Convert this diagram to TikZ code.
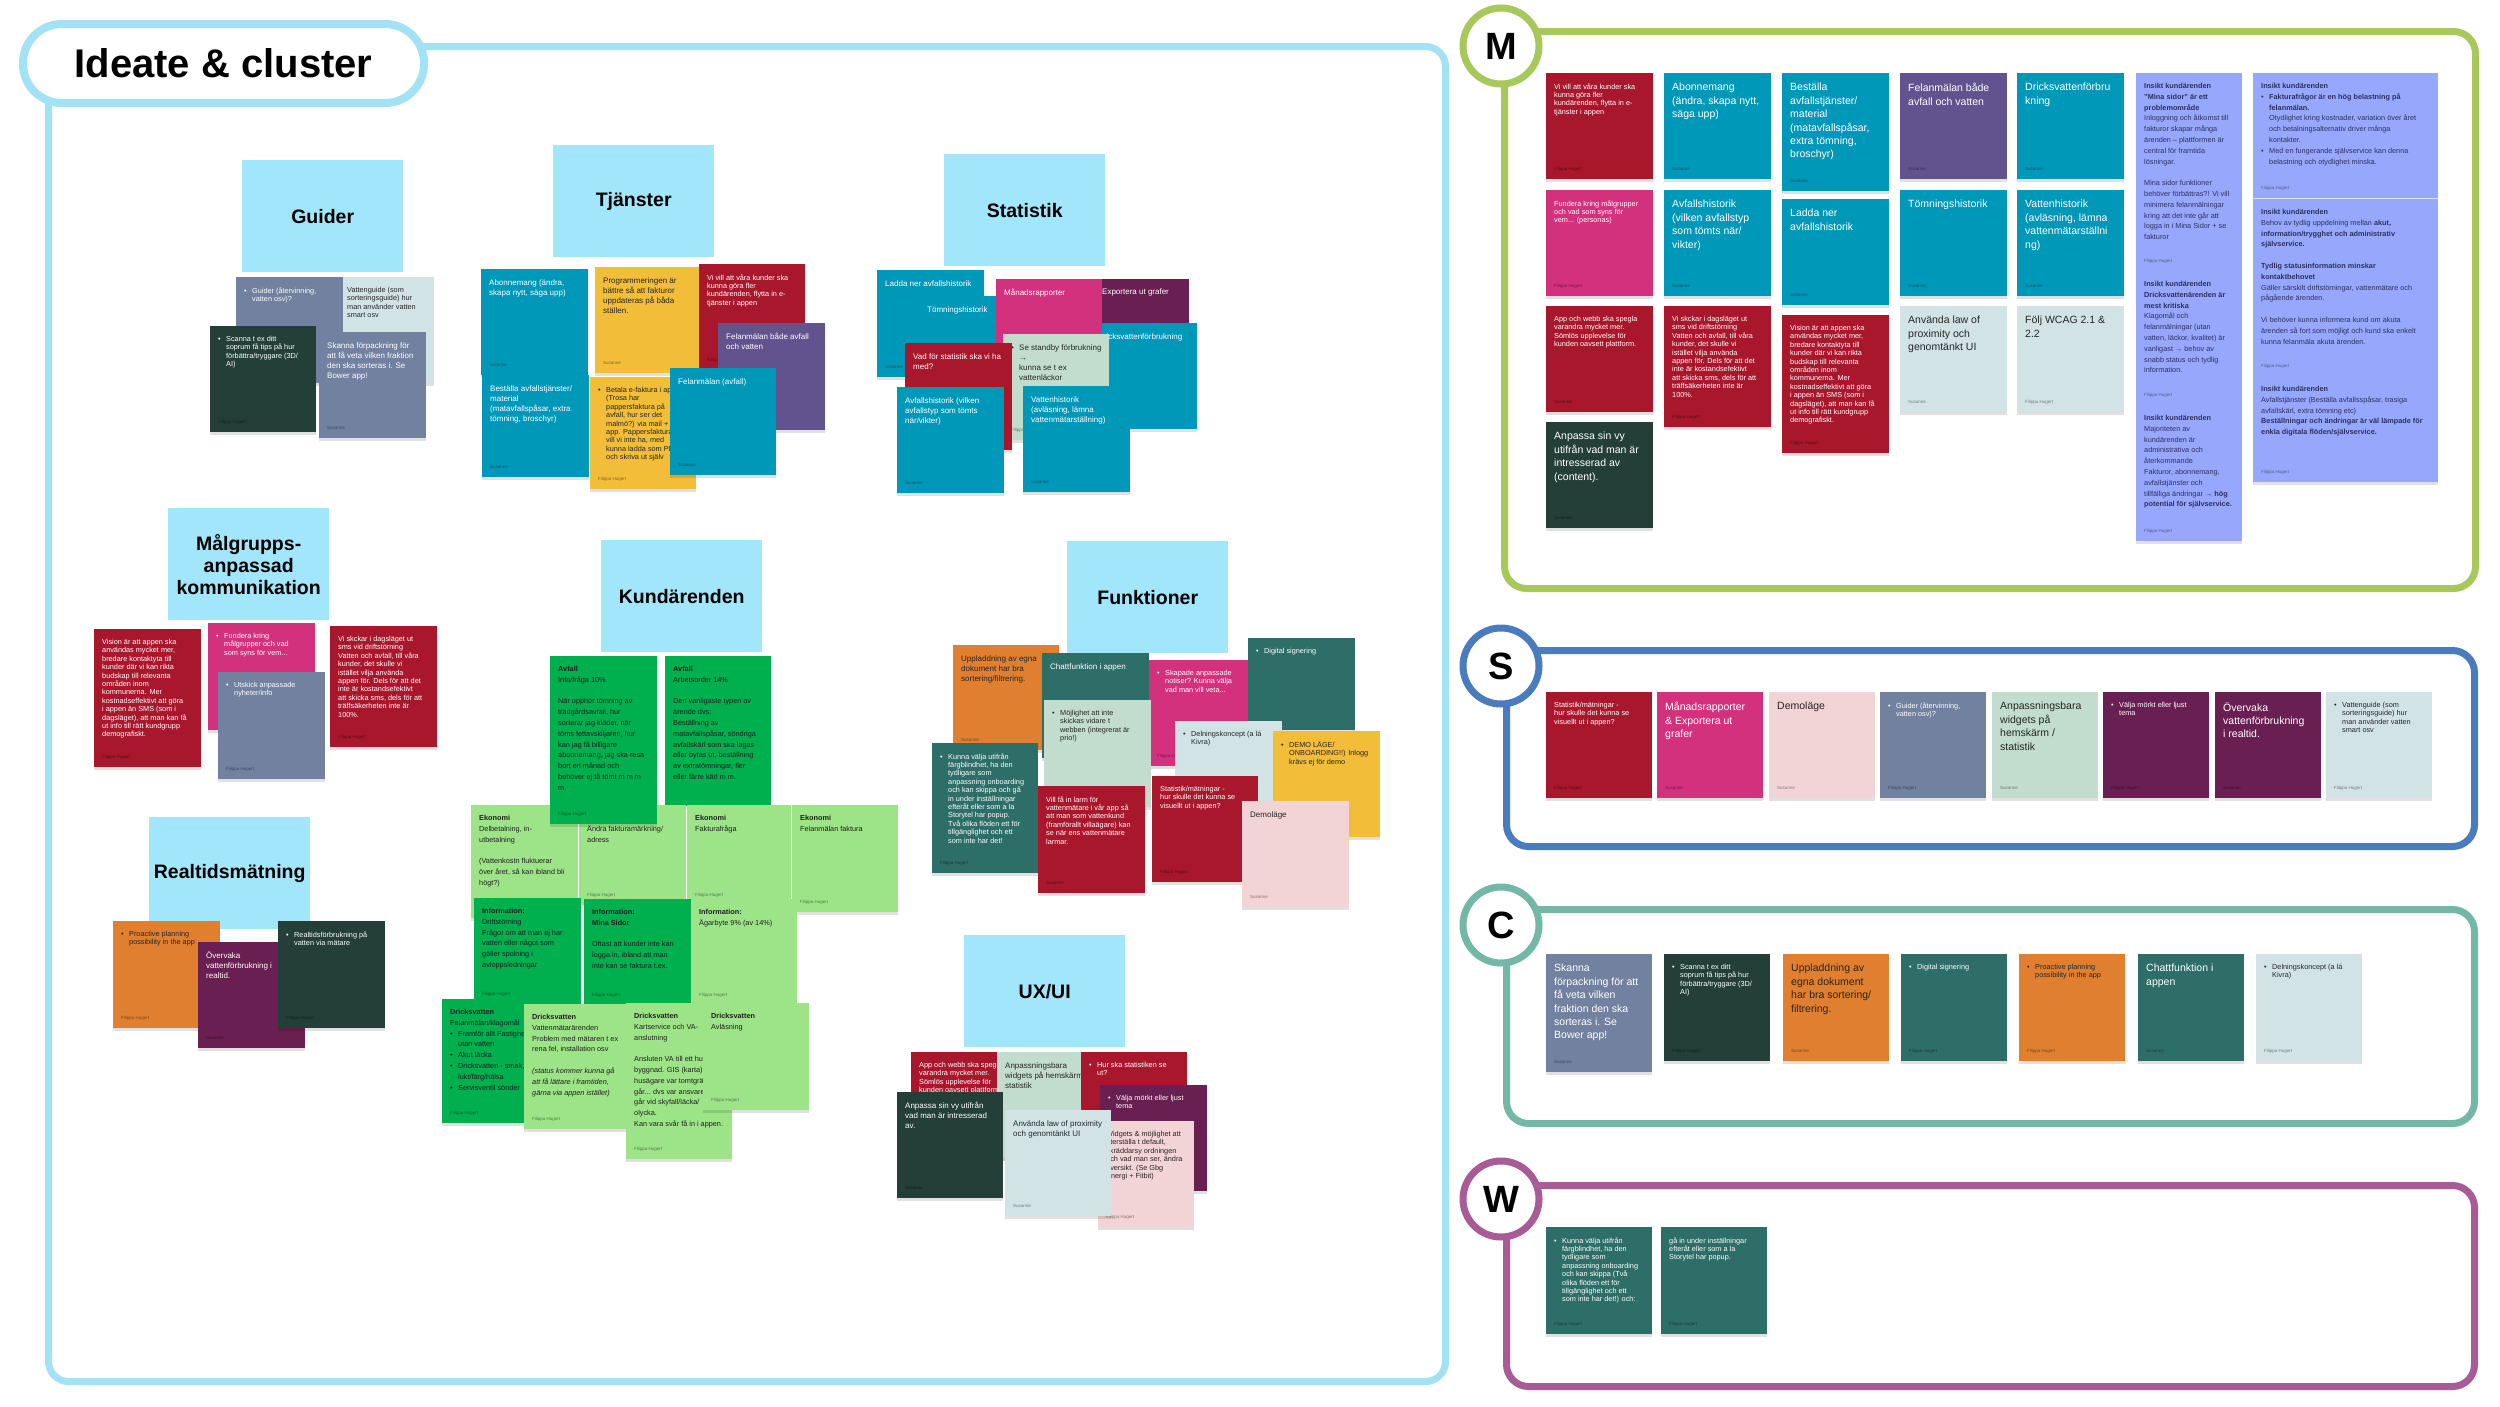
\documentclass[tikz,border=0pt]{standalone}
\usepackage{fontspec}
\setmainfont{Liberation Sans}
\usetikzlibrary{shadows}
\definecolor{cRed}{HTML}{A8172C}
\definecolor{cTeal}{HTML}{0098B8}
\definecolor{cYellow}{HTML}{F2BE3A}
\definecolor{cPurple}{HTML}{62538F}
\definecolor{cSlate}{HTML}{72819F}
\definecolor{cLBlue}{HTML}{D2E3E6}
\definecolor{cDark}{HTML}{233F38}
\definecolor{cMagenta}{HTML}{D3307D}
\definecolor{cPlum}{HTML}{6A1F52}
\definecolor{cSage}{HTML}{C2DCCD}
\definecolor{cTealG}{HTML}{2E6E68}
\definecolor{cOrange}{HTML}{E07F30}
\definecolor{cPink}{HTML}{F2D3D6}
\definecolor{cGreen}{HTML}{00AF4E}
\definecolor{cLGreen}{HTML}{9CE487}
\definecolor{cPeri}{HTML}{97A8FC}
\definecolor{cPeriT}{HTML}{2B3060}
\definecolor{cHead}{HTML}{A1E6FA}
\definecolor{cFrame}{HTML}{A3E2F5}
\definecolor{cM}{HTML}{A7C85B}
\definecolor{cS}{HTML}{4A7BBF}
\definecolor{cC}{HTML}{73B8A7}
\definecolor{cW}{HTML}{A85B97}
\newcommand\fzN{\fontsize{8}{10}\selectfont}
\newcommand\fzS{\fontsize{7.3}{8.4}\selectfont}
\newcommand\fzL{\fontsize{10.5}{13.4}\selectfont}
\newcommand\fzK{\fontsize{7.3}{10.8}\selectfont}
\newcommand\fzA{\fontsize{4.5}{5}\selectfont}
\newcommand\fzH{\fontsize{19.5}{22}\selectfont\bfseries}
\newcommand\fzT{\fontsize{40}{44}\selectfont\bfseries}
\newcommand\fzB{\fontsize{38}{40}\selectfont\bfseries}
\newcommand\bul{\makebox[8pt][l]{\textbullet}}
\newcommand\hin{\hspace*{8pt}}
\tikzset{
  notebox/.style={anchor=north west, inner sep=0pt, outer sep=0pt, draw=none,
    drop shadow={shadow xshift=0pt, shadow yshift=-3pt, opacity=0.12, fill=black}},
  notetext/.style={anchor=north west, inner sep=0pt, align=left},
  noteauthor/.style={anchor=base west, inner sep=0pt, font=\fzA},
  wS/.style={text=white, font=\fzS},
  wN/.style={text=white, font=\fzN},
  wL/.style={text=white, font=\fzL},
  dS/.style={text=black!85, font=\fzS},
  dN/.style={text=black!85, font=\fzN},
  dL/.style={text=black!85, font=\fzL},
  kD/.style={text=black!88, font=\fzK},
  pw/.style={text=cPeriT, font=\fzK},
  header/.style={anchor=north west, fill=cHead, minimum width=161pt, minimum height=112pt,
    inner sep=0pt, font=\fzH, align=center},
  panelbox/.style={anchor=north west, line width=7pt, rounded corners=22pt, inner sep=0pt},
  badge/.style={circle, line width=7pt, fill=white, minimum size=76pt, inner sep=0pt, font=\fzB},
}
\newcommand\stick[9]{%
  \node[notebox, fill=#6, minimum width=#4pt, minimum height=#5pt] (#1) at (#2,#3) {};
  \node[notetext, #7] (#1-t) at ([xshift=8pt,yshift=-10pt]#1.north west) {#8};
  \node[noteauthor, text=#6!55!black] (#1-a) at ([xshift=8pt,yshift=9pt]#1.south west) {#9};
}
\begin{document}
\begin{tikzpicture}[x=1pt,y=-1pt]
\useasboundingbox (0,0) rectangle (2500,1406);
\fill[white] (0,0) rectangle (2500,1406);

% ---------- left frame ----------
\node[panelbox, draw=cFrame, minimum width=1397pt, minimum height=1335pt, rounded corners=20pt] (frame) at (45,43) {};
\node[draw=cFrame, fill=white, line width=8pt, rounded corners=39pt, minimum width=401pt, minimum height=79pt, inner sep=0pt, font=\fzT] (title) at (223.5,63.5) {Ideate \& cluster};

% headers
\node[header] (hGuider) at (242,160) {Guider};
\node[header] (hTjanster) at (553,145) {Tjänster};
\node[header] (hStat) at (944,154) {Statistik};
\node[header] (hMal) at (168,508) {Målgrupps-\\anpassad\\kommunikation};
\node[header] (hReal) at (149,817) {Realtidsmätning};
\node[header] (hKund) at (601,540) {Kundärenden};
\node[header] (hFunk) at (1067,541) {Funktioner};
\node[header] (hUX) at (964,935) {UX/UI};

% Guider
\stick{g2}{331}{277}{103}{106}{cLBlue}{dS}{\bul Vattenguide (som\\\hin sorteringsguide) hur\\\hin man använder vatten\\\hin smart osv}{}
\stick{g1}{236}{277}{107}{106}{cSlate}{wS}{\bul Guider (återvinning,\\\hin vatten osv)?}{}
\stick{g3}{210}{326}{106}{106}{cDark}{wS}{\bul Scanna t ex ditt\\\hin soprum få tips på hur\\\hin förbättra/tryggare (3D/\\\hin AI)}{Filippa Hugert}
\stick{g4}{319}{332}{107}{106}{cSlate}{wN}{Skanna förpackning för\\att få veta vilken fraktion\\den ska sorteras i. Se\\Bower app!}{Susanne}

% Tjanster
\stick{t1}{481}{269}{107}{106}{cTeal}{wN}{Abonnemang (ändra,\\skapa nytt, säga upp)}{Susanne}
\stick{t2}{482}{375}{107}{102}{cTeal}{wN}{Beställa avfallstjänster/\\material\\(matavfallspåsar, extra\\tömning, broschyr)}{Susanne}
\stick{t3}{595}{267}{107}{106}{cYellow}{dN}{Programmeringen är\\bättre så att fakturor\\uppdateras på båda\\ställen.}{Susanne}
\stick{t4}{699}{264}{106}{106}{cRed}{wS}{Vi vill att våra kunder ska\\kunna göra fler\\kundärenden, flytta in e-\\tjänster i appen}{Filippa Hugert}
\stick{t5}{718}{323}{107}{107}{cPurple}{wN}{Felanmälan både avfall\\och vatten}{Susanne}
\stick{t6}{590}{377}{106}{112}{cYellow}{dS}{\bul Betala e-faktura i appen\\\hin (Trosa har\\\hin pappersfaktura på\\\hin avfall, hur ser det\\\hin malmö?) via mail +\\\hin app. Pappersfaktura\\\hin vill vi inte ha, med\\\hin kunna ladda som PDF\\\hin och skriva ut själv}{Filippa Hugert}
\stick{t7}{670}{368}{106}{107}{cTeal}{wN}{Felanmälan (avfall)}{Susanne}

% Statistik
\stick{s1}{877}{270}{107}{107}{cTeal}{wN}{Ladda ner avfallshistorik}{Susanne}
\stick{s2}{919}{296}{106}{106}{cTeal}{wN}{Tömningshistorik}{}
\stick{s3}{1094}{279}{95}{106}{cPlum}{wN}{Exportera ut grafer}{}
\stick{s4}{1090}{323}{107}{106}{cTeal}{wN}{Dricksvattenförbrukning}{}
\stick{s5}{996}{279}{106}{106}{cMagenta}{wN}{Månadsrapporter}{}
\stick{s6}{1003}{334}{106}{106}{cSage}{dN}{\bul Se standby förbrukning\\\hin →\\\hin kunna se t ex\\\hin vattenläckor}{Filippa Hugert}
\stick{s7}{905}{343}{107}{107}{cRed}{wN}{Vad för statistik ska vi ha\\med?}{}
\stick{s8}{897}{387}{107}{106}{cTeal}{wN}{Avfallshistorik (vilken\\avfallstyp som tömts\\när/vikter)}{Susanne}
\stick{s9}{1023}{386}{107}{106}{cTeal}{wN}{Vattenhistorik\\(avläsning, lämna\\vattenmätarställning)}{Susanne}

% Malgrupps
\stick{m1}{94}{629}{107}{138}{cRed}{wS}{Vision är att appen ska\\användas mycket mer,\\bredare kontaktyta till\\kunder där vi kan rikta\\budskap till relevanta\\områden inom\\kommunerna. Mer\\kostnadseffektivt att göra\\i appen än SMS (som i\\dagsläget), att man kan få\\ut info till rätt kundgrupp\\demografiskt.}{Filippa Hugert}
\stick{m2}{208}{623}{107}{107}{cMagenta}{wS}{\bul Fundera kring\\\hin målgrupper och vad\\\hin som syns för vem...}{}
\stick{m3}{218}{672}{107}{107}{cSlate}{wS}{\bul Utskick anpassade\\\hin nyheter/info}{Filippa Hugert}
\stick{m4}{330}{626}{107}{121}{cRed}{wS}{Vi skckar i dagsläget ut\\sms vid driftstörning\\Vatten och avfall, till våra\\kunder, det skulle vi\\istället vilja använda\\appen för. Dels för att det\\inte är kostandsefektivt\\att skicka sms, dels för att\\träffsäkerheten inte är\\100\%.}{Filippa Hugert}

% Realtid
\stick{r1}{113}{921}{107}{107}{cOrange}{dS}{\bul Proactive planning\\\hin possibility in the app}{Filippa Hugert}
\stick{r2}{198}{942}{107}{106}{cPlum}{wN}{Övervaka\\vattenförbrukning i\\realtid.}{Susanne}
\stick{r3}{278}{921}{107}{107}{cDark}{wS}{\bul Realtidsförbrukning på\\\hin vatten via mätare}{Filippa Hugert}

% Kundarenden
\stick{k2}{665}{656}{106}{150}{cGreen}{kD}{\textbf{Avfall}\\Arbetsorder 14\%\\~\\Den vanligaste typen av\\ärende dvs:\\Beställning av\\matavfallspåsar, söndriga\\avfallskärl som ska lagas\\eller bytas ut, beställning\\av extratömningar, fler\\eller färre kärl m m.}{}
\stick{k3}{471}{805}{107}{113}{cLGreen}{kD}{\textbf{Ekonomi}\\Delbetalning, in-\\utbetalning\\~\\(Vattenkostn fluktuerar\\över året, så kan ibland bli\\högt?)}{}
\stick{k4}{579}{805}{107}{100}{cLGreen}{kD}{\textbf{Ekonomi}\\Ändra fakturamärkning/\\adress}{Filippa Hugert}
\stick{k5}{687}{805}{104}{100}{cLGreen}{kD}{\textbf{Ekonomi}\\Fakturafråga}{Filippa Hugert}
\stick{k6}{792}{805}{106}{107}{cLGreen}{kD}{\textbf{Ekonomi}\\Felanmälan faktura}{Filippa Hugert}
\stick{k1}{550}{656}{107}{168}{cGreen}{kD}{\textbf{Avfall}\\Info/fråga 10\%\\~\\När upphör tömning av\\trädgårdsavfall, hur\\sorterar jag kläder, när\\töms fettavskiljaren, hur\\kan jag få billigare\\abonnemang, jag ska resa\\bort en månad och\\behöver ej få tömt m m m\\m.}{Filippa Hugert}
\stick{k7}{474}{898}{107}{106}{cGreen}{kD}{\textbf{Information:}\\Driftstörning\\Frågor om att man ej har\\vatten eller något som\\gäller spolning i\\avloppsledningar}{Filippa Hugert}
\stick{k8}{584}{899}{107}{106}{cGreen}{kD}{\textbf{Information:}\\\textbf{Mina Sidor}\\~\\Oftast att kunder inte kan\\logga in, ibland att man\\inte kan se faktura t.ex.}{Filippa Hugert}
\stick{k9}{691}{899}{106}{106}{cLGreen}{kD}{\textbf{Information:}\\Ägarbyte 9\% (av 14\%)}{Filippa Hugert}
\stick{k10}{442}{999}{106}{124}{cGreen}{kD}{\textbf{Dricksvatten}\\Felanmälan/klagomål\\\bul Framför allt Fastighet\\\hin utan vatten\\\bul Akut läcka\\\bul Dricksvatten - smak,\\\hin lukt/färg/hälsa\\\bul Servisventil sönder}{Filippa Hugert}
\stick{k11}{524}{1004}{107}{125}{cLGreen}{kD}{\textbf{Dricksvatten}\\Vattenmätarärenden\\Problem med mätaren t ex\\rena fel, installation osv\\~\\\textit{(status kommer kunna gå}\\\textit{att få lättare i framtiden,}\\\textit{gärna via appen istället)}}{Filippa Hugert}
\stick{k12}{626}{1003}{106}{156}{cLGreen}{kD}{\textbf{Dricksvatten}\\Kartservice och VA-\\anslutning\\~\\Ansluten VA till ett hus/\\byggnad. GIS (karta)\\husägare var tomtgränsen\\går... dvs var ansvaret\\går vid skyfall/läcka/\\olycka.\\Kan vara svår få in i appen.}{Filippa Hugert}
\stick{k13}{703}{1003}{106}{107}{cLGreen}{kD}{\textbf{Dricksvatten}\\Avläsning}{Filippa Hugert}

% Funktioner
\stick{f1}{953}{645}{106}{105}{cOrange}{dN}{Uppladdning av egna\\dokument har bra\\sortering/filtrering.}{Susanne}
\stick{f2}{1042}{653}{107}{105}{cTealG}{wN}{Chattfunktion i appen}{}
\stick{f3}{1149}{660}{107}{106}{cMagenta}{wS}{\bul Skapade anpassade\\\hin notiser? Kunna välja\\\hin vad man vill veta...}{Filippa Hugert}
\stick{f4}{1248}{638}{107}{92}{cTealG}{wS}{\bul Digital signering}{}
\stick{f5}{1044}{700}{107}{107}{cSage}{dS}{\bul Möjlighet att inte\\\hin skickas vidare t\\\hin webben (integrerat är\\\hin prio!)}{}
\stick{f6}{1175}{721}{107}{106}{cLBlue}{dS}{\bul Delningskoncept (a lá\\\hin Kivra)}{}
\stick{f7}{1273}{731}{107}{106}{cYellow}{dS}{\bul DEMO LÄGE/\\\hin ONBOARDING!!) Inlogg\\\hin krävs ej för demo}{}
\stick{f8}{932}{743}{106}{130}{cTealG}{wS}{\bul Kunna välja utifrån\\\hin färgblindhet, ha den\\\hin tydligare som\\\hin anpassning onboarding\\\hin och kan skippa och gå\\\hin in under inställningar\\\hin efteråt eller som a la\\\hin Storytel har popup.\\\hin Två olika flöden ett för\\\hin tillgänglighet och ett\\\hin som inte har det!}{Filippa Hugert}
\stick{f9}{1038}{786}{107}{107}{cRed}{wS}{Vill få in larm för\\vattenmätare i vår app så\\att man som vattenkund\\(framförallt villaägare) kan\\se när ens vattenmätare\\larmar.}{Susanne}
\stick{f10}{1152}{776}{106}{106}{cRed}{wS}{Statistik/mätningar -\\hur skulle det kunna se\\visuellt ut i appen?}{Filippa Hugert}
\stick{f11}{1242}{801}{107}{106}{cPink}{dN}{Demoläge}{Susanne}

% UX/UI
\stick{u1}{911}{1052}{106}{106}{cRed}{wS}{App och webb ska spegla\\varandra mycket mer.\\Sömlös upplevelse för\\kunden oavsett plattform.}{}
\stick{u2}{997}{1052}{107}{106}{cSage}{dN}{Anpassningsbara\\widgets på hemskärm /\\statistik}{}
\stick{u3}{1081}{1052}{106}{106}{cRed}{wS}{\bul Hur ska statistiken se\\\hin ut?}{}
\stick{u4}{1100}{1085}{107}{106}{cPlum}{wS}{\bul Välja mörkt eller ljust\\\hin tema}{}
\stick{u5}{897}{1092}{106}{106}{cDark}{wN}{Anpassa sin vy utifrån\\vad man är intresserad\\av.}{Susanne}
\stick{u6}{1098}{1121}{96}{106}{cPink}{dS}{Widgets \& möjlighet att\\återställa t default,\\skräddarsy ordningen\\och vad man ser, ändra\\översikt. (Se Gbg\\Energi + Fitbit)}{Filippa Hugert}
\stick{u7}{1005}{1110}{106}{106}{cLBlue}{dN}{Använda law of proximity\\och genomtänkt UI}{Susanne}

% ---------- right panels ----------
\node[panelbox, draw=cM, minimum width=971pt, minimum height=557pt] (panM) at (1501,28) {};
\node[panelbox, draw=cS, minimum width=968pt, minimum height=196pt] (panS) at (1503,647) {};
\node[panelbox, draw=cC, minimum width=968pt, minimum height=214pt] (panC) at (1503,906) {};
\node[panelbox, draw=cW, minimum width=968pt, minimum height=201pt] (panW) at (1503,1182) {};
\node[badge, draw=cM] (bM) at (1501,46) {M};
\node[badge, draw=cS] (bS) at (1501,666) {S};
\node[badge, draw=cC] (bC) at (1501,925) {C};
\node[badge, draw=cW] (bW) at (1501,1199) {W};

% M panel
\stick{pm1}{1546}{73}{107}{106}{cRed}{wS}{Vi vill att våra kunder ska\\kunna göra fler\\kundärenden, flytta in e-\\tjänster i appen}{Filippa Hugert}
\stick{pm2}{1546}{190}{107}{106}{cMagenta}{wS}{Fundera kring målgrupper\\och vad som syns för\\vem... (personas)}{Filippa Hugert}
\stick{pm3}{1546}{306}{107}{106}{cRed}{wS}{App och webb ska spegla\\varandra mycket mer.\\Sömlös upplevelse för\\kunden oavsett plattform.}{Susanne}
\stick{pm4}{1546}{422}{107}{106}{cDark}{wL}{Anpassa sin vy\\utifrån vad man är\\intresserad av\\(content).}{Susanne}
\stick{pm5}{1664}{73}{107}{106}{cTeal}{wL}{Abonnemang\\(ändra, skapa nytt,\\säga upp)}{Susanne}
\stick{pm6}{1664}{190}{107}{106}{cTeal}{wL}{Avfallshistorik\\(vilken avfallstyp\\som tömts när/\\vikter)}{Susanne}
\stick{pm7}{1664}{306}{107}{121}{cRed}{wS}{Vi skckar i dagsläget ut\\sms vid driftstörning\\Vatten och avfall, till våra\\kunder, det skulle vi\\istället vilja använda\\appen för. Dels för att det\\inte är kostandsefektivt\\att skicka sms, dels för att\\träffsäkerheten inte är\\100\%.}{Filippa Hugert}
\stick{pm8}{1782}{73}{107}{118}{cTeal}{wL}{Beställa\\avfallstjänster/\\material\\(matavfallspåsar,\\extra tömning,\\broschyr)}{Susanne}
\stick{pm9}{1782}{199}{107}{106}{cTeal}{wL}{Ladda ner\\avfallshistorik}{Susanne}
\stick{pm10}{1782}{315}{107}{138}{cRed}{wS}{Vision är att appen ska\\användas mycket mer,\\bredare kontaktyta till\\kunder där vi kan rikta\\budskap till relevanta\\områden inom\\kommunerna. Mer\\kostnadseffektivt att göra\\i appen än SMS (som i\\dagsläget), att man kan få\\ut info till rätt kundgrupp\\demografiskt.}{Filippa Hugert}
\stick{pm11}{1900}{73}{107}{106}{cPurple}{wL}{Felanmälan både\\avfall och vatten}{Susanne}
\stick{pm12}{1900}{190}{107}{106}{cTeal}{wL}{Tömningshistorik}{Susanne}
\stick{pm13}{1900}{306}{107}{106}{cLBlue}{dL}{Använda law of\\proximity och\\genomtänkt UI}{Susanne}
\stick{pm14}{2017}{73}{107}{106}{cTeal}{wL}{Dricksvattenförbru\\kning}{Susanne}
\stick{pm15}{2017}{190}{107}{106}{cTeal}{wL}{Vattenhistorik\\(avläsning, lämna\\vattenmätarställni\\ng)}{Susanne}
\stick{pm16}{2017}{306}{107}{106}{cLBlue}{dL}{Följ WCAG 2.1 \&\\2.2}{Filippa Hugert}

\stick{pp1}{2136}{73}{106}{198}{cPeri}{pw}{\textbf{Insikt kundärenden}\\\textbf{"Mina sidor" är ett}\\\textbf{problemområde}\\Inloggning och åtkomst till\\fakturor skapar många\\ärenden – plattformen är\\central för framtida\\lösningar.\\~\\Mina sidor funktioner\\behöver förbättras?! Vi vill\\minimera felanmälningar\\kring att det inte går att\\logga in i Mina Sidor + se\\fakturor}{Filippa Hugert}
\stick{pp2}{2136}{271}{106}{134}{cPeri}{pw}{\textbf{Insikt kundärenden}\\\textbf{Dricksvattenärenden är}\\\textbf{mest kritiska}\\Klagomål och\\felanmälningar (utan\\vatten, läckor, kvalitet) är\\vanligast → behov av\\snabb status och tydlig\\information.}{Filippa Hugert}
\stick{pp3}{2136}{405}{106}{136}{cPeri}{pw}{\textbf{Insikt kundärenden}\\Majoriteten av\\kundärenden är\\administrativa och\\återkommande\\Fakturor, abonnemang,\\avfallstjänster och\\tillfälliga ändringar → \textbf{hög}\\\textbf{potential för självservice.}}{Filippa Hugert}
\stick{pp4}{2253}{73}{185}{125}{cPeri}{pw}{\textbf{Insikt kundärenden}\\\bul\textbf{Fakturafrågor är en hög belastning på}\\\hin\textbf{felanmälan.}\\\hin Otydlighet kring kostnader, variation över året\\\hin och betalningsalternativ driver många\\\hin kontakter.\\\bul Med en fungerande självservice kan denna\\\hin belastning och otydlighet minska.}{Filippa Hugert}
\stick{pp5}{2253}{199}{185}{177}{cPeri}{pw}{\textbf{Insikt kundärenden}\\Behov av tydlig uppdelning mellan \textbf{akut,}\\\textbf{information/trygghet och administrativ}\\\textbf{självservice.}\\~\\\textbf{Tydlig statusinformation minskar}\\\textbf{kontaktbehovet}\\Gäller särskilt driftstörningar, vattenmätare och\\pågående ärenden.\\~\\Vi behöver kunna informera kund om akuta\\ärenden så fort som möjligt och kund ska enkelt\\kunna felanmäla akuta ärenden.}{Filippa Hugert}
\stick{pp6}{2253}{376}{185}{106}{cPeri}{pw}{\textbf{Insikt kundärenden}\\Avfallstjänster (Beställa avfallsspåsar, trasiga\\avfallskärl, extra tömning etc)\\\textbf{Beställningar och ändringar är väl lämpade för}\\\textbf{enkla digitala flöden/självservice.}}{Filippa Hugert}

% S panel
\stick{ps1}{1546}{692}{106}{106}{cRed}{wS}{Statistik/mätningar -\\hur skulle det kunna se\\visuellt ut i appen?}{Filippa Hugert}
\stick{ps2}{1657}{692}{106}{106}{cMagenta}{wL}{Månadsrapporter\\\& Exportera ut\\grafer}{Susanne}
\stick{ps3}{1769}{692}{106}{106}{cPink}{dL}{Demoläge}{Susanne}
\stick{ps4}{1880}{692}{106}{106}{cSlate}{wS}{\bul Guider (återvinning,\\\hin vatten osv)?}{Filippa Hugert}
\stick{ps5}{1992}{692}{106}{106}{cSage}{dL}{Anpassningsbara\\widgets på\\hemskärm /\\statistik}{Susanne}
\stick{ps6}{2103}{692}{106}{106}{cPlum}{wS}{\bul Välja mörkt eller ljust\\\hin tema}{Filippa Hugert}
\stick{ps7}{2215}{692}{106}{106}{cPlum}{wL}{Övervaka\\vattenförbrukning\\i realtid.}{Susanne}
\stick{ps8}{2326}{692}{106}{106}{cLBlue}{dS}{\bul Vattenguide (som\\\hin sorteringsguide) hur\\\hin man använder vatten\\\hin smart osv}{Filippa Hugert}

% C panel
\stick{pc1}{1546}{954}{106}{118}{cSlate}{wL}{Skanna\\förpackning för att\\få veta vilken\\fraktion den ska\\sorteras i. Se\\Bower app!}{Susanne}
\stick{pc2}{1664}{954}{106}{107}{cDark}{wS}{\bul Scanna t ex ditt\\\hin soprum få tips på hur\\\hin förbättra/tryggare (3D/\\\hin AI)}{Filippa Hugert}
\stick{pc3}{1783}{954}{106}{107}{cOrange}{dL}{Uppladdning av\\egna dokument\\har bra sortering/\\filtrering.}{Susanne}
\stick{pc4}{1901}{954}{106}{107}{cTealG}{wS}{\bul Digital signering}{Filippa Hugert}
\stick{pc5}{2019}{954}{106}{107}{cOrange}{dS}{\bul Proactive planning\\\hin possibility in the app}{Filippa Hugert}
\stick{pc6}{2138}{954}{106}{107}{cTealG}{wL}{Chattfunktion i\\appen}{Susanne}
\stick{pc7}{2256}{954}{106}{107}{cLBlue}{dS}{\bul Delningskoncept (a lá\\\hin Kivra)}{Filippa Hugert}

% W panel
\stick{pw1}{1546}{1227}{106}{107}{cTealG}{wS}{\bul Kunna välja utifrån\\\hin färgblindhet, ha den\\\hin tydligare som\\\hin anpassning onboarding\\\hin och kan skippa (Två\\\hin olika flöden ett för\\\hin tillgänglighet och ett\\\hin som inte har det!) och:}{Filippa Hugert}
\stick{pw2}{1661}{1227}{106}{107}{cTealG}{wS}{gå in under inställningar\\efteråt eller som a la\\Storytel har popup.}{Filippa Hugert}
\end{tikzpicture}
\end{document}
